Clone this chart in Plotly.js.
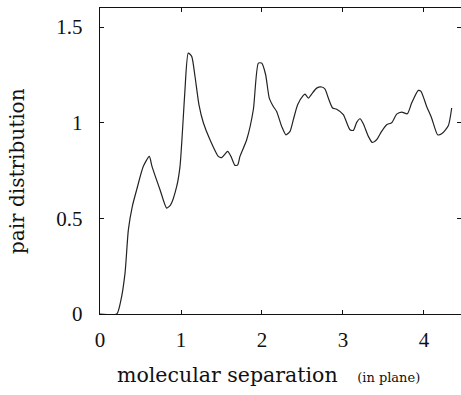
<!DOCTYPE html>
<html>
<head>
<meta charset="utf-8">
<script src="https://cdn.plot.ly/plotly-3.0.1.min.js"></script>
<style>html,body{margin:0;padding:0;background:#fff;}#chart{width:461px;height:395px;}</style>
</head>
<body>
<div id="chart"></div>
<script>
const separation = [0, 0.206, 0.255, 0.309, 0.350, 0.399, 0.453, 0.535, 0.609, 0.642, 0.741, 0.823, 0.872, 0.947, 0.988, 1.029, 1.049, 1.090, 1.132, 1.173, 1.222, 1.276, 1.358, 1.461, 1.502, 1.576, 1.617, 1.667, 1.700, 1.728, 1.811, 1.893, 1.955, 1.996, 2.045, 2.090, 2.140, 2.181, 2.243, 2.296, 2.346, 2.387, 2.440, 2.510, 2.531, 2.572, 2.613, 2.675, 2.737, 2.778, 2.819, 2.872, 2.922, 3.004, 3.086, 3.128, 3.169, 3.210, 3.251, 3.313, 3.362, 3.415, 3.477, 3.539, 3.601, 3.663, 3.725, 3.794, 3.848, 3.930, 3.963, 4.033, 4.095, 4.169, 4.218, 4.300, 4.342];
const pairDist = [0, 0, 0.066, 0.214, 0.440, 0.563, 0.650, 0.772, 0.824, 0.772, 0.650, 0.554, 0.571, 0.667, 0.772, 1.033, 1.172, 1.364, 1.347, 1.242, 1.094, 1.000, 0.911, 0.824, 0.818, 0.850, 0.824, 0.777, 0.780, 0.824, 0.911, 1.068, 1.312, 1.312, 1.251, 1.129, 1.085, 1.059, 0.981, 0.937, 0.955, 1.016, 1.094, 1.143, 1.150, 1.129, 1.150, 1.181, 1.187, 1.176, 1.129, 1.077, 1.071, 1.042, 0.963, 0.960, 1.002, 1.021, 0.995, 0.929, 0.897, 0.911, 0.955, 0.990, 1.000, 1.045, 1.056, 1.047, 1.103, 1.169, 1.164, 1.085, 1.024, 0.937, 0.942, 0.984, 1.077];
const xTickVals = [0, 1, 2, 3, 4];
const xTickText = ["0", "1", "2", "3", "4"];
const yTickVals = [0, 0.5, 1, 1.5];
const yTickText = ["0", "0.5", "1", "1.5"];

const serif = "Liberation Serif, DejaVu Serif, serif";
const wideSerif = "DejaVu Serif, Liberation Serif, serif";
const trace = {
  x: separation, y: pairDist, type: 'scatter', mode: 'lines',
  line: {color: '#222', width: 1.2, shape: 'spline', smoothing: 0.6},
  hoverinfo: 'skip'
};
const axisCommon = {
  showline: true, linecolor: '#111', linewidth: 1.2, mirror: 'ticks',
  ticks: 'inside', ticklen: 4, tickcolor: '#111', tickwidth: 1,
  showgrid: false, zeroline: false, fixedrange: true,
  tickfont: {family: serif, size: 21, color: '#111'}
};
const layout = {
  width: 461, height: 395,
  margin: {l: 100, r: 0, t: 8, b: 81},
  paper_bgcolor: '#fff', plot_bgcolor: '#fff',
  showlegend: false,
  xaxis: Object.assign({}, axisCommon, {
    range: [0, 4.457], tickmode: 'array', tickvals: xTickVals, ticktext: xTickText,
    ticklabelstandoff: 7
  }),
  yaxis: Object.assign({}, axisCommon, {
    range: [0, 1.6], tickmode: 'array', tickvals: yTickVals, ticktext: yTickText,
    ticklabelstandoff: 12
  }),
  annotations: [
    {xref: 'paper', yref: 'paper', x: (268 - 100) / 361, y: -0.2, yshift: 0,
     xanchor: 'center', yanchor: 'middle', showarrow: false,
     text: "molecular separation&nbsp;&nbsp;&nbsp;<span style='font-size:13px'>(in plane)</span>",
     font: {family: wideSerif, size: 20.5, color: '#111'}},
    {xref: 'paper', yref: 'paper', x: 0, xshift: -83, y: (314 - 171) / 306,
     xanchor: 'center', yanchor: 'middle', showarrow: false, textangle: -90,
     text: "pair distribution",
     font: {family: wideSerif, size: 20, color: '#111'}}
  ]
};
Plotly.newPlot('chart', [trace], layout, {displayModeBar: false, staticPlot: true});
</script>
</body>
</html>
